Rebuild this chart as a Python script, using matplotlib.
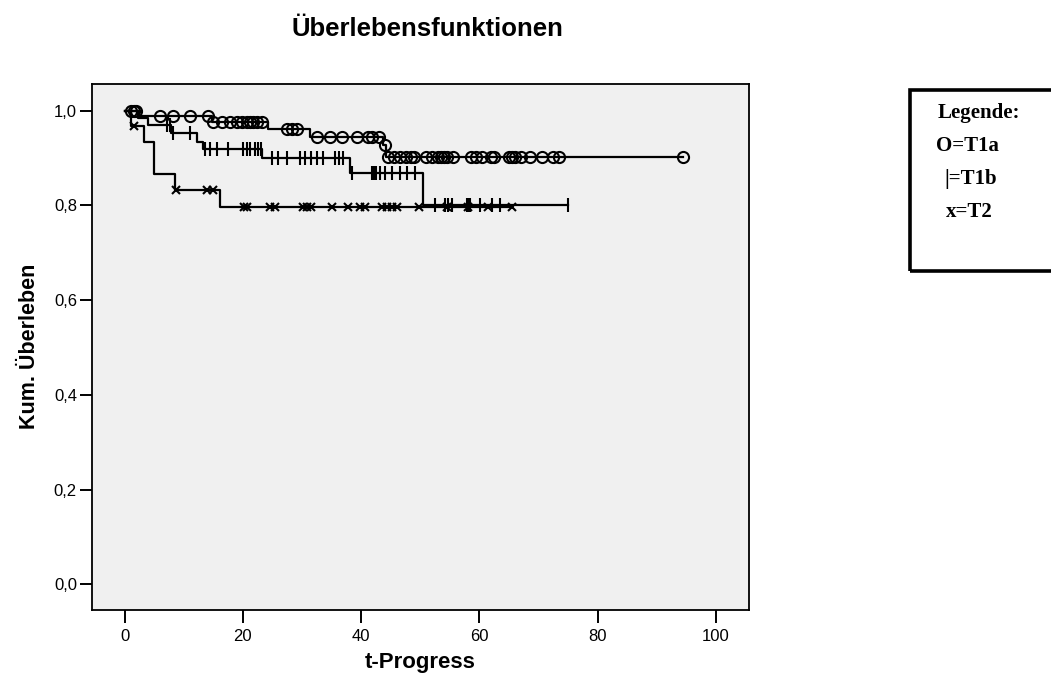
import numpy as np
import matplotlib
matplotlib.use("Agg")
import matplotlib.pyplot as plt
import matplotlib.patches as patches

# Kaplan-Meier steps: drop times and survival after each drop
t1a_events = [2.3, 14.8, 24.3, 31.3, 43.7, 44.2]
t1a_surv = [0.989, 0.975, 0.961, 0.945, 0.927, 0.902]
t1a_censored = [1.0, 1.5, 2.0, 6.0, 8.2, 11.1, 14.1, 15.0, 16.5, 17.8, 19.0, 19.9,
                20.7, 21.2, 21.7, 22.4, 23.3, 27.5, 28.3, 29.2, 32.5, 34.7, 36.8,
                39.3, 41.2, 41.8, 43.0, 44.0, 44.5, 45.5, 46.5, 47.5, 48.5, 49.0,
                51.0, 52.0, 53.0, 53.5, 54.0, 54.5, 55.5, 58.5, 59.5, 60.5, 62.0,
                62.5, 65.0, 65.5, 66.0, 67.0, 68.5, 70.5, 72.5, 73.5, 94.5]

t1b_events = [2.3, 4.0, 7.9, 12.3, 13.3, 23.3, 38.1, 50.5]
t1b_surv = [0.985, 0.969, 0.953, 0.934, 0.918, 0.899, 0.869, 0.800]
t1b_censored = [7.1, 7.7, 8.2, 11.1, 13.6, 14.5, 15.6, 17.5, 20.0, 20.7, 21.2, 22.1,
                22.6, 23.1, 24.9, 26.0, 27.4, 29.7, 30.5, 31.5, 32.5, 33.5, 35.5,
                36.3, 37.0, 38.4, 41.8, 42.2, 42.5, 43.2, 44.0, 45.2, 46.6, 47.7,
                49.1, 52.5, 54.2, 54.7, 55.3, 57.9, 58.1, 58.4, 60.1, 62.1, 63.5, 75.0]

t2_events = [1.0, 3.2, 4.9, 8.5, 16.1]
t2_surv = [0.967, 0.933, 0.867, 0.833, 0.797]
t2_censored = [1.5, 8.6, 13.9, 15.0, 20.1, 20.7, 24.6, 25.4, 30.2, 30.8, 31.5, 35.0,
               37.8, 39.8, 40.7, 43.5, 44.3, 45.2, 46.0, 49.7, 54.5, 58.0, 61.5, 65.5]

x_ticks = [0, 20, 40, 60, 80, 100]
y_ticks = [0.0, 0.2, 0.4, 0.6, 0.8, 1.0]
legend_lines = ["Legende:", "O=T1a", "|=T1b", "x=T2"]


def km_curve(ax, events, surv, censored, marker, ms):
    t_end = max(max(censored), max(events))
    steps_t = np.concatenate([[0.0], events, [t_end]])
    steps_s = np.concatenate([[1.0], surv, [surv[-1]]])
    ax.step(steps_t, steps_s, where="post", color="black", lw=1.6, zorder=3)
    # survival level at each censoring time
    idx = np.searchsorted(events, censored, side="right")
    levels = np.concatenate([[1.0], surv])[idx]
    face = "none" if marker == "o" else "black"
    ax.plot(censored, levels, linestyle="none", marker=marker, ms=ms,
            mfc=face, mec="black", mew=1.5, zorder=4)


fig = plt.figure(figsize=(10.51, 6.84), dpi=100)
ax = fig.add_axes([0.0871, 0.1075, 0.6256, 0.7697])
ax.set_facecolor("#F0F0F0")

km_curve(ax, t1a_events, t1a_surv, t1a_censored, "o", 8)
km_curve(ax, t1b_events, t1b_surv, t1b_censored, "|", 10)
km_curve(ax, t2_events, t2_surv, t2_censored, "x", 6)

ax.set_xlim(-5.6, 105.6)
ax.set_ylim(-0.055, 1.056)
ax.set_xticks(x_ticks)
ax.set_xticklabels([str(v) for v in x_ticks], fontsize=12, fontfamily="Liberation Sans")
ax.set_yticks(y_ticks)
ax.set_yticklabels([f"{v:.1f}".replace(".", ",") for v in y_ticks], fontsize=12,
                   fontfamily="Liberation Sans")
ax.tick_params(axis="x", direction="out", length=9, width=1.4, pad=4)
ax.tick_params(axis="y", direction="out", length=9, width=1.4, pad=1.5)
for s in ax.spines.values():
    s.set_linewidth(1.3)

fig.text(0.407, 0.958, "Überlebensfunktionen", ha="center", va="center",
         fontsize=18.5, fontweight="bold", fontfamily="Liberation Sans")
fig.text(0.400, 0.031, "t-Progress", ha="center", va="center",
         fontsize=16, fontweight="bold", fontfamily="Liberation Sans")
fig.text(0.0285, 0.493, "Kum. Überleben", ha="center", va="center", rotation=90,
         fontsize=15.5, fontweight="bold", fontfamily="Liberation Sans")

# legend box, right side cut off by the figure edge
W, H = 1051.0, 684.0
box = patches.Rectangle((910 / W, 1 - 271.5 / H), 200 / W, (271.5 - 90) / H,
                        transform=fig.transFigure, fill=False, lw=2.6,
                        edgecolor="black", clip_on=False)
fig.patches.append(box)
legend_x = [938, 936, 944, 946]
legend_base = [118, 151, 184, 217]
for txt, lx, ly in zip(legend_lines, legend_x, legend_base):
    fig.text(lx / W, 1 - ly / H, txt, ha="left", va="baseline",
             fontsize=15, fontweight="bold", fontfamily="Liberation Serif")

fig.savefig("out.png", dpi=100)
